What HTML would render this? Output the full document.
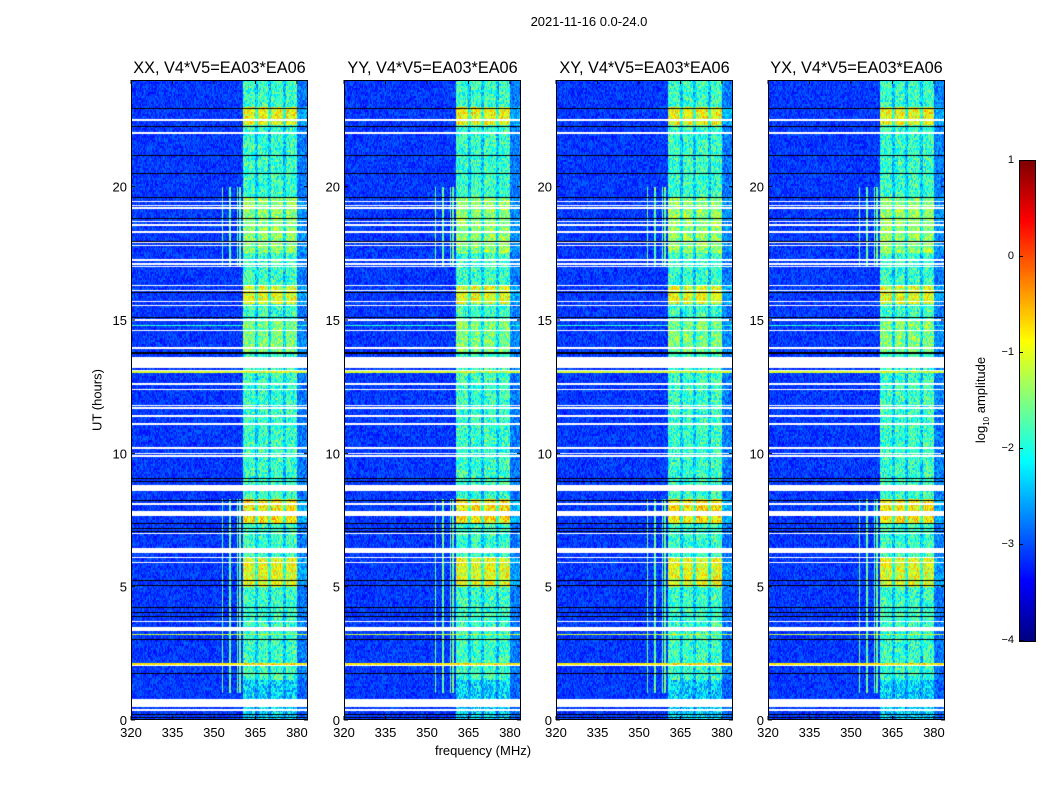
<!DOCTYPE html>
<html><head><meta charset="utf-8">
<style>
body{margin:0;background:#fff;font-family:"Liberation Sans",sans-serif;}
#root{position:relative;width:1050px;height:800px;overflow:hidden;background:#fff;}
.t{position:absolute;font-size:13px;color:#000;white-space:nowrap;}
</style></head>
<body>
<div id="root">
<div class="t" style="left:0;width:1178px;text-align:center;top:14px;">2021-11-16 0.0-24.0</div>
<div class="t" style="left:97px;top:400px;transform:translate(-50%,-50%) rotate(-90deg);">UT (hours)</div>
<div class="t" style="left:483px;top:743px;transform:translateX(-50%);">frequency (MHz)</div>
<div class="t" style="left:982px;top:400px;transform:translate(-50%,-50%) rotate(-90deg);">log<sub style="font-size:8px">10</sub> amplitude</div>
<canvas id="cbar" width="15" height="480" style="position:absolute;left:1019px;top:160px;border:1px solid #000;box-sizing:content-box;"></canvas>
</div>
<script>
// ---- data ----
const panelTitles = ["XX, V4*V5=EA03*EA06","YY, V4*V5=EA03*EA06","XY, V4*V5=EA03*EA06","YX, V4*V5=EA03*EA06"];
const panelBandScale = [1.0, 1.0, 1.0, 1.0];
const xTicks = [320,335,350,365,380];
const yTicks = [0,5,10,15,20];
const cbarTicks = [1,0,-1,-2,-3,-4];
const baseLevel = -3.1;
const bandRange = [360.5, 380.2];
const bandGaps = [365.4, 370.2, 375.4];
const bandLevels = [[22.3,23.0,-0.9],[17.5,19.6,-1.4],[15.6,16.3,-1.0],[13.8,15.0,-1.5],[7.4,8.3,-0.8],[5.0,6.1,-1.0],[0,1.5,-2.3]];
const bandDefault = -1.85;
const vlineFreqs = [353.2, 355.8, 358.4, 359.4];
const vlineTimes = [[17.0,20.0],[1.0,8.3]];
const colorRows = [[3.2,-1.1],[2.1,-0.8],[13.05,-1.1],[14.8,-1.9]];
const whiteRows = [[22.46,22.54],[21.96,22.04],[19.42,19.48],[19.27,19.33],[19.17,19.23],[18.77,18.83],[18.67,18.73],[18.53,18.59],[18.27,18.33],[17.87,17.93],[17.77,17.83],[17.22,17.28],[17.07,17.13],[16.97,17.03],[16.27,16.33],[16.07,16.13],[15.67,15.73],[15.52,15.58],[14.97,15.03],[14.57,14.63],[13.92,13.98],[13.2,13.6],[13.07,13.13],[12.57,12.63],[12.37,12.43],[11.77,11.83],[11.67,11.73],[11.37,11.43],[11.07,11.13],[10.17,10.23],[9.97,10.03],[9.87,9.93],[8.6,8.8],[8.07,8.13],[7.65,7.84],[6.97,7.03],[6.25,6.45],[6.07,6.13],[5.87,5.93],[3.67,3.73],[3.42,3.48],[3.34,3.4],[2.02,2.08],[0.5,0.78],[0.34,0.4]];
const blackRows = [22.95,22.29,21.2,20.5,19.6,18.82,17.97,16.06,15.1,13.8,13.75,9.07,8.96,8.25,7.4,7.2,7.1,5.25,5.06,4.24,4.05,3.9,3.04,1.76,0.22,0.12];
// ---- layout ----
const panelX = [131,344,556,768], panelTop = 80, panelW = 177, panelH = 640;
const fMin = 320, fMax = 384, tMin = 0, tMax = 24;
const xs = (f,p)=> panelX[p] + (f-fMin)/(fMax-fMin)*panelW;
const ys = t => panelTop + (1-(t-tMin)/(tMax-tMin))*panelH;
function jet(x){x=Math.max(0,Math.min(1,x));const c=v=>Math.round(255*Math.max(0,Math.min(1,v)));
 return [c(1.5-Math.abs(4*x-3)),c(1.5-Math.abs(4*x-2)),c(1.5-Math.abs(4*x-1))];}
const norm = v => (v+4)/5;
function hash(a,b){let h=(a*374761393+b*668265263)|0;h=(h^(h>>>13))*1274126177|0;return ((h^(h>>>16))>>>0)/4294967295;}
function bandAt(t){for(const b of bandLevels){if(t>=b[0]&&t<b[1])return b[2];}return bandDefault;}
const root=document.getElementById('root');
panelTitles.forEach((title,p)=>{
 const cv=document.createElement('canvas');
 cv.width=panelW;cv.height=panelH;
 
 
 cv.style.cssText=`position:absolute;left:${panelX[p]}px;top:${panelTop}px;`;
 root.appendChild(cv);
 const ctx=cv.getContext('2d');const img=ctx.createImageData(panelW,panelH);
 for(let py=0;py<panelH;py++){
  const t=tMax-(py+0.5)/panelH*(tMax-tMin);
  const bl=bandAt(t);
  for(let px=0;px<panelW;px++){
   const f=fMin+(px+0.5)/panelW*(fMax-fMin);
   let prof=0;
   if(f>=bandRange[0]&&f<=bandRange[1]){prof=1;for(const g of bandGaps){if(Math.abs(f-g)<0.6)prof=0.55;}}
   else if(f>bandRange[1]){prof=0.25;}
   let v=baseLevel+(bl-baseLevel)*prof*panelBandScale[p];
   for(const vf of vlineFreqs){if(Math.abs(f-vf)<0.2){for(const vt of vlineTimes){if(t>=vt[0]&&t<=vt[1])v=Math.max(v,-1.6);}}}
   for(const cr of colorRows){if(Math.abs(t-cr[0])<0.03)v=Math.max(v,cr[1]);}
   v+=(hash(px,(py>>1)+p*999)-0.5)*(0.55+0.6*prof);
   const c=jet(norm(v));const i=(py*panelW+px)*4;
   img.data[i]=c[0];img.data[i+1]=c[1];img.data[i+2]=c[2];img.data[i+3]=255;
  }
 }
 ctx.putImageData(img,0,0);
 ctx.fillStyle='#fff';
 whiteRows.forEach(w=>{const y1=Math.round(ys(w[1])-panelTop),y0=Math.round(ys(w[0])-panelTop);ctx.fillRect(0,y1,panelW,Math.max(1,y0-y1));});
 ctx.fillStyle='#000';
 blackRows.forEach(b=>{ctx.fillRect(0,Math.round(ys(b)-panelTop),panelW,1);});
 const svgNS='http://www.w3.org/2000/svg';
 const sv=document.createElementNS(svgNS,'svg');
 sv.setAttribute('width','1050');sv.setAttribute('height','800');
 
 
 sv.style.cssText='position:absolute;left:0;top:0;';
 let h=`<rect x="${panelX[p]+0.5}" y="${panelTop+0.5}" width="${panelW-1}" height="${panelH-1}" fill="none" stroke="#000"/>`;
 xTicks.forEach(f=>{const x=xs(f,p);h+=`<line x1="${x}" x2="${x}" y1="${panelTop+panelH}" y2="${panelTop+panelH-4}" stroke="#000"/><line x1="${x}" x2="${x}" y1="${panelTop}" y2="${panelTop+4}" stroke="#000"/><text x="${x}" y="${panelTop+panelH+17}" font-size="13" text-anchor="middle" font-family="Liberation Sans">${f}</text>`;});
 yTicks.forEach(t=>{const y=ys(t);h+=`<line x1="${panelX[p]}" x2="${panelX[p]+4}" y1="${y}" y2="${y}" stroke="#000"/><line x1="${panelX[p]+panelW}" x2="${panelX[p]+panelW-4}" y1="${y}" y2="${y}" stroke="#000"/><text x="${panelX[p]-4}" y="${y+5}" font-size="13" text-anchor="end" font-family="Liberation Sans">${t}</text>`;});
 h+=`<text x="${panelX[p]+panelW/2}" y="${panelTop-7}" font-size="16.3" text-anchor="middle" font-family="Liberation Sans">${title}</text>`;
 sv.innerHTML=h;root.appendChild(sv);
});
const cb=document.getElementById('cbar').getContext('2d');
for(let y=0;y<480;y++){const c=jet(1-(y+0.5)/480);cb.fillStyle=`rgb(${c[0]},${c[1]},${c[2]})`;cb.fillRect(0,y,15,1);}
cbarTicks.forEach(v=>{
 const y=160+(1-norm(v))*480;
 const d=document.createElement('div');d.className='t';d.textContent=v<0?'\u2212'+(-v):String(v);
 
 
 d.style.cssText=`right:${1050-1014}px;top:${y-6}px;font-size:11px;`;
 root.appendChild(d);
 const l=document.createElement('div');
 
 
 l.style.cssText=`position:absolute;left:1019px;top:${y}px;width:4px;height:1px;background:#000;`;
 root.appendChild(l);
});
</script>
</body></html>
